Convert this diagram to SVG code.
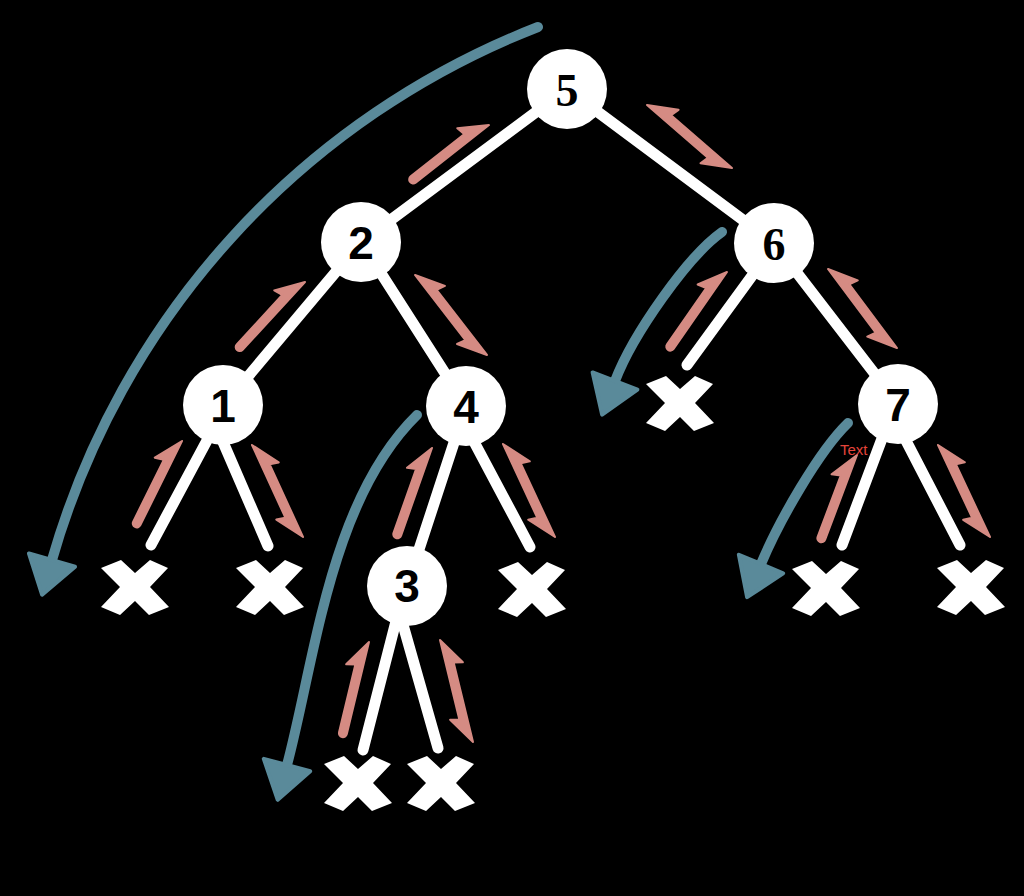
<svg xmlns="http://www.w3.org/2000/svg" xmlns:xlink="http://www.w3.org/1999/xlink" width="1024" height="896" viewBox="0 0 1024 896">
<style>
.edge{stroke:#fff;stroke-width:11;stroke-linecap:round;fill:none}
.node circle{fill:#fff}
.lbl{font-family:"Liberation Sans",Arial,sans-serif;font-weight:bold;font-size:46px;text-anchor:middle;fill:#000}
.serif{font-family:"Liberation Serif","Times New Roman",serif}
.walk{fill:#D58B83;stroke:#D58B83;stroke-width:2;stroke-linejoin:round}
.tour{fill:none;stroke:#5A8A9A;stroke-width:10;stroke-linecap:round;marker-end:url(#ah)}
.xm{fill:#fff}
.note{font-family:"Liberation Sans",Arial,sans-serif;font-size:15px;fill:#E5443A}
</style>
<defs>
<marker id="ah" markerUnits="userSpaceOnUse" markerWidth="60" markerHeight="60" viewBox="-10 -30 60 60" refX="0" refY="0" orient="auto">
<path d="M0,-24 L36,0 L0,24 Z" fill="#5A8A9A" stroke="#5A8A9A" stroke-width="4" stroke-linejoin="round"/>
</marker>
<path id="xmark" d="M-34,-19 L-14,-27 L0,-14 L15,-27 L33,-19 L15,0 L34,20 L14,28 L0,14 L-15,28 L-34,20 L-15,0 Z"/>
</defs>
<rect x="0" y="0" width="1024" height="896" fill="#000"/>
<g id="connectors">
<line class="edge" x1="567" y1="89" x2="361" y2="242"/>
<line class="edge" x1="567" y1="89" x2="774" y2="243"/>
<line class="edge" x1="361" y1="242" x2="224" y2="405"/>
<line class="edge" x1="361" y1="242" x2="466" y2="406"/>
<line class="edge" x1="774" y1="243" x2="898" y2="404"/>
<line class="edge" x1="466" y1="406" x2="407" y2="586"/>
<line class="edge" x1="226" y1="405" x2="151" y2="545"/>
<line class="edge" x1="207" y1="405" x2="268" y2="546"/>
<line class="edge" x1="455" y1="406" x2="530" y2="547"/>
<line class="edge" x1="405" y1="586" x2="363" y2="750"/>
<line class="edge" x1="392" y1="586" x2="438" y2="748"/>
<line class="edge" x1="776" y1="243" x2="687" y2="365"/>
<line class="edge" x1="895" y1="404" x2="842" y2="545"/>
<line class="edge" x1="887" y1="404" x2="960" y2="545"/>
</g>
<g id="node5" class="node"><circle cx="567" cy="89" r="40"/><text class="lbl serif" x="567" y="106">5</text></g>
<g id="node2" class="node"><circle cx="361" cy="242" r="40"/><text class="lbl" x="361" y="259">2</text></g>
<g id="node6" class="node"><circle cx="774" cy="243" r="40"/><text class="lbl serif" x="774" y="260">6</text></g>
<g id="node1" class="node"><circle cx="223" cy="405" r="40"/><text class="lbl" x="223" y="422">1</text></g>
<g id="node4" class="node"><circle cx="466" cy="406" r="40"/><text class="lbl" x="466" y="423">4</text></g>
<g id="node7" class="node"><circle cx="898" cy="404" r="40"/><text class="lbl" x="898" y="421">7</text></g>
<g id="node3" class="node"><circle cx="407" cy="586" r="40"/><text class="lbl" x="407" y="602">3</text></g>
<g id="null1" class="xm"><use xlink:href="#xmark" href="#xmark" transform="translate(135,587)"/></g>
<g id="null2" class="xm"><use xlink:href="#xmark" href="#xmark" transform="translate(270,587)"/></g>
<g id="null3" class="xm"><use xlink:href="#xmark" href="#xmark" transform="translate(532,589)"/></g>
<g id="null4" class="xm"><use xlink:href="#xmark" href="#xmark" transform="translate(358,783)"/></g>
<g id="null5" class="xm"><use xlink:href="#xmark" href="#xmark" transform="translate(441,783)"/></g>
<g id="null6" class="xm"><use xlink:href="#xmark" href="#xmark" transform="translate(680,403)"/></g>
<g id="null7" class="xm"><use xlink:href="#xmark" href="#xmark" transform="translate(826,588)"/></g>
<g id="null8" class="xm"><use xlink:href="#xmark" href="#xmark" transform="translate(971,587)"/></g>
<g id="walk-arrows">
<path class="walk" transform="translate(489,125) rotate(-38.16)" d="M0,0 L-27,-17 L-25,-8 L-93.3,-8 A4,4 0 0 0 -93.3,0 Z"/>
<path class="walk" transform="translate(305,282) rotate(-47.38)" d="M0,0 L-27,-17 L-25,-8 L-92.1,-8 A4,4 0 0 0 -92.1,0 Z"/>
<path class="walk" transform="translate(182,441) rotate(-63.68)" d="M0,0 L-27,-17 L-25,-8 L-93.9,-8 A4,4 0 0 0 -93.9,0 Z"/>
<path class="walk" transform="translate(432,448) rotate(-70.56)" d="M0,0 L-27,-17 L-25,-8 L-92.9,-8 A4,4 0 0 0 -92.9,0 Z"/>
<path class="walk" transform="translate(369,642) rotate(-76.45)" d="M0,0 L-27,-17 L-25,-8 L-94.7,-8 A4,4 0 0 0 -94.7,0 Z"/>
<path class="walk" transform="translate(727,272) rotate(-55.24)" d="M0,0 L-27,-17 L-25,-8 L-93.7,-8 A4,4 0 0 0 -93.7,0 Z"/>
<path class="walk" transform="translate(857,455) rotate(-69.38)" d="M0,0 L-27,-17 L-25,-8 L-90.5,-8 A4,4 0 0 0 -90.5,0 Z"/>
<path class="walk" transform="translate(647,105) rotate(40.89)" d="M0,0 L27,-17 L25,-8 L105.5,-8 L78.5,9 L80.5,0 Z"/>
<path class="walk" transform="translate(415,275) rotate(52.27)" d="M0,0 L27,-17 L25,-8 L107.3,-8 L80.3,9 L82.3,0 Z"/>
<path class="walk" transform="translate(252,445) rotate(65.35)" d="M0,0 L27,-17 L25,-8 L104.9,-8 L77.9,9 L79.9,0 Z"/>
<path class="walk" transform="translate(503,444) rotate(65.10)" d="M0,0 L27,-17 L25,-8 L106.25,-8 L79.25,9 L81.25,0 Z"/>
<path class="walk" transform="translate(440,640) rotate(76.35)" d="M0,0 L27,-17 L25,-8 L106.9,-8 L79.9,9 L81.9,0 Z"/>
<path class="walk" transform="translate(828,269) rotate(53.24)" d="M0,0 L27,-17 L25,-8 L104.6,-8 L77.6,9 L79.6,0 Z"/>
<path class="walk" transform="translate(938,445) rotate(64.86)" d="M0,0 L27,-17 L25,-8 L105.4,-8 L78.4,9 L80.4,0 Z"/>
</g>
<g id="tour-arrows">
<path class="tour" d="M538,27 A812,812 0 0 0 52,560"/>
<path class="tour" d="M417,415 C330,500 315,660 287,765"/>
<path class="tour" d="M722,232 C688,256 633,334 615,381"/>
<path class="tour" d="M848,423 C819,451 779,521 761,564"/>
</g>
<text class="note" x="840" y="455">Text</text>
</svg>
